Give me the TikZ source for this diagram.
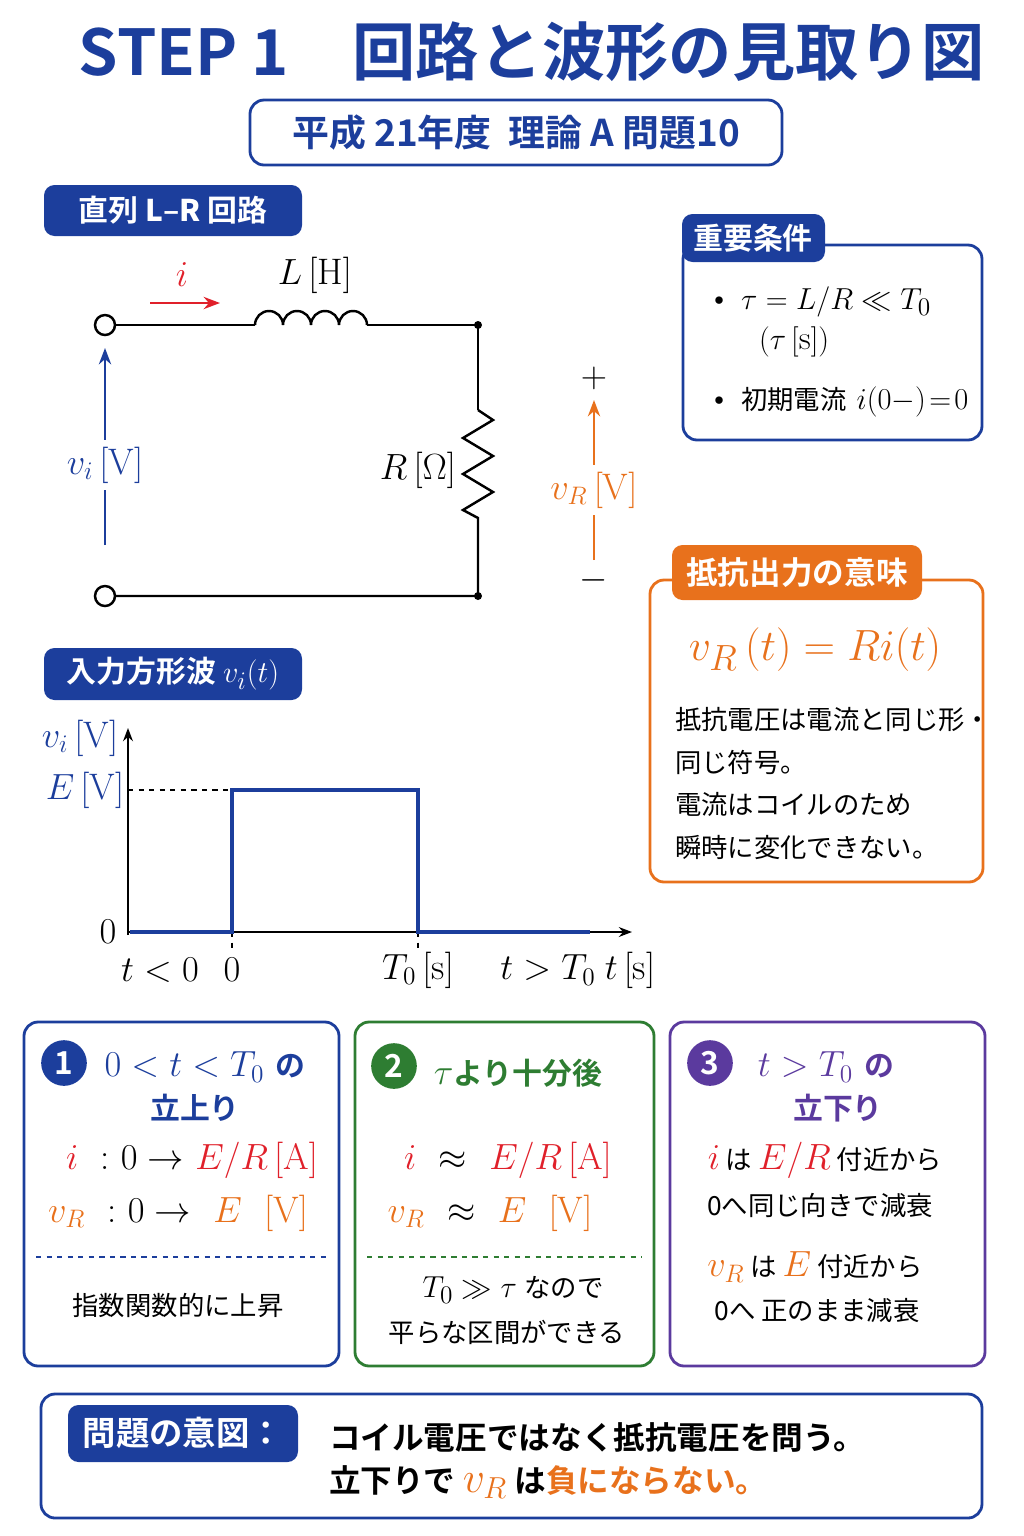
\documentclass[tikz,border=0pt]{standalone}
\usepackage{fontspec}
\usepackage{amssymb}
\newfontfamily\jp{Noto Sans CJK JP}[BoldFont={Noto Sans CJK JP Bold}]
\usetikzlibrary{arrows.meta}
\definecolor{navy}{HTML}{1C3E9C}
\definecolor{ora}{HTML}{E8711C}
\definecolor{redc}{HTML}{E0202A}
\definecolor{grn}{HTML}{2E7D32}
\definecolor{pur}{HTML}{5B3A9E}
\newcommand{\fs}[1]{\fontsize{#1}{#1}\selectfont}
\tikzset{
  frame/.style={draw=#1, line width=1.6pt, rounded corners=8pt},
  lbl/.style={font=\fs{21}},
  jtx/.style={font=\jp\fs{15}},
  num/.style={circle, fill=#1, text=white, minimum size=26pt, inner sep=0pt, font=\jp\bfseries\fs{18}},
}
\begin{document}
\begin{tikzpicture}[x=0.02cm, y=-0.02cm, >=Stealth, line width=1.4pt]
\useasboundingbox (0,0) rectangle (1024,1536);

% Title
\node[text=navy, font=\jp\bfseries\fs{36}] (title) at (532,52) {STEP 1\quad 回路と波形の見取り図};
\draw[frame=navy] (250,100) rectangle (782,165);
\node[text=navy, font=\jp\bfseries\fs{21}] (sub) at (516,133) {平成 21年度\ \ 理論 A 問題10};

% Circuit
\fill[navy, rounded corners=6pt] (44,185) rectangle (302,236);
\node[text=white, font=\jp\bfseries\fs{17}] (tagc) at (173,210) {直列 \textit{L}–\textit{R} 回路};
\draw (105,325) circle (10);
\draw (105,596) circle (10);
\coordinate (tl) at (115,325);
\coordinate (tr) at (478,325);
\coordinate (br) at (478,596);
\coordinate (bl) at (115,596);
\draw (tl) -- (255,325);
\draw (255,325) arc (180:360:14) (283,325) arc (180:360:14) (311,325) arc (180:360:14) (339,325) arc (180:360:14);
\draw (367,325) -- (tr) -- (478,410);
\draw (478,410) -- (493,420) -- (463,438) -- (493,456) -- (463,474) -- (493,492) -- (463,510) -- (478,518) -- (br) -- (bl);
\fill (tr) circle (4) (br) circle (4);
\draw[->, redc] (150,303) -- (220,303);
\node[lbl, text=redc] (ii) at (182,275) {$i$};
\node[lbl] (Lh) at (315,275) {$L\,[\mathrm{H}]$};
\node[lbl] (Rh) at (418,470) {$R\,[\Omega]$};
\node[lbl, text=navy, fill=white] (vi) at (105,465) {$v_i\,[\mathrm{V}]$};
\draw[navy] (105,545) -- (vi.south);
\draw[->, navy] (vi.north) -- (105,348);
\node[lbl, text=ora, fill=white] (vr) at (594,490) {$v_R\,[\mathrm{V}]$};
\draw[ora] (594,560) -- (vr.south);
\draw[->, ora] (vr.north) -- (594,400);
\node[lbl] (pl) at (594,378) {$+$};
\node[lbl] (mi) at (594,580) {$-$};

% Conditions
\draw[frame=navy] (683,245) rectangle (982,440);
\fill[navy, rounded corners=6pt] (682,214) rectangle (825,262);
\node[text=white, font=\jp\bfseries\fs{17}] (tagk) at (753,238) {重要条件};
\node[font=\fs{19}, anchor=west] (k1) at (700,302) {\textbullet\ $\tau = L/R \ll T_0$};
\node[font=\fs{19}, anchor=west] (k2) at (752,342) {$(\tau\,[\mathrm{s}])$};
\node[font=\fs{19}, anchor=west] (k3) at (700,402) {\textbullet\ {\jp\fs{15}初期電流} $i(0{-})\!=\!0$};

% Meaning
\draw[frame=ora] (650,580) rectangle (983,882);
\fill[ora, rounded corners=6pt] (672,545) rectangle (922,600);
\node[text=white, font=\jp\bfseries\fs{18}] (tago) at (797,573) {抵抗出力の意味};
\node[text=ora, font=\fs{32}] (form) at (815,650) {$v_R\,(t) = Ri(t)$};
\node[jtx, anchor=west] (m1) at (668,720) {抵抗電圧は電流と同じ形・};
\node[jtx, anchor=west] (m2) at (668,762) {同じ符号。};
\node[jtx, anchor=west] (m3) at (668,804) {電流はコイルのため};
\node[jtx, anchor=west] (m4) at (668,847) {瞬時に変化できない。};

% Waveform
\fill[navy, rounded corners=6pt] (44,648) rectangle (302,700);
\node[text=white, font=\jp\bfseries\fs{17}] (tagw) at (173,674) {入力方形波 \fs{19}$v_i(t)$};
\coordinate (o) at (128,932);
\draw[->, line width=1pt] (128,935) -- (128,728);
\draw[->, line width=1pt] (o) -- (632,932);
\node[lbl, text=navy] (ya) at (80,738) {$v_i\,[\mathrm{V}]$};
\node[lbl, text=navy] (ye) at (85,790) {$E\,[\mathrm{V}]$};
\node[lbl] (y0) at (108,932) {$0$};
\draw[dashed, line width=0.8pt] (128,790) -- (232,790);
\draw[dashed, line width=0.8pt] (232,932) -- (232,948) (418,932) -- (418,948);
\draw[navy, line width=2.4pt] (130,932) -- (232,932) -- (232,790) -- (418,790) -- (418,932) -- (590,932);
\node[lbl] (x1) at (160,970) {$t<0$};
\node[lbl] (x2) at (232,970) {$0$};
\node[lbl] (x3) at (418,970) {$T_0\,[\mathrm{s}]$};
\node[lbl] (x4) at (548,970) {$t>T_0$};
\node[lbl] (x5) at (630,970) {$t\,[\mathrm{s}]$};

% Box 1
\draw[frame=navy] (24,1022) rectangle (339,1366);
\node[num=navy] (n1) at (64,1063) {1};
\node[lbl, text=navy] (b1a) at (205,1067) {$0<t<T_0$ {\jp\bfseries\fs{17}の}};
\node[text=navy, font=\jp\bfseries\fs{17}] (b1b) at (195,1108) {立上り};
\node[lbl] (b1c) at (192,1160) {\textcolor{redc}{$i$} \ :\ $0 \rightarrow$ \textcolor{redc}{$E/R\,[\mathrm{A}]$}};
\node[lbl] (b1d) at (178,1213) {\textcolor{ora}{$v_R$} \ :\ $0 \rightarrow$ \ \textcolor{ora}{$E\ \ [\mathrm{V}]$}};
\draw[navy, dashed, line width=1pt] (36,1257) -- (328,1257);
\node[jtx] (b1e) at (178,1305) {指数関数的に上昇};

% Box 2
\draw[frame=grn] (355,1022) rectangle (654,1366);
\node[num=grn] (n2) at (394,1066) {2};
\node[text=grn, font=\jp\bfseries\fs{17}] (b2a) at (518,1073) {\fs{21}$\tau$\fs{17}より十分後};
\node[lbl] (b2c) at (508,1160) {\textcolor{redc}{$i$} \ $\approx$ \ \textcolor{redc}{$E/R\,[\mathrm{A}]$}};
\node[lbl] (b2d) at (490,1213) {\textcolor{ora}{$v_R$} \ $\approx$ \ \textcolor{ora}{$E\ \ [\mathrm{V}]$}};
\draw[grn, dashed, line width=1pt] (367,1257) -- (642,1257);
\node[jtx] (b2e) at (513,1290) {\fs{19}$T_0 \gg \tau$ \fs{15}なので};
\node[jtx] (b2f) at (507,1332) {平らな区間ができる};

% Box 3
\draw[frame=pur] (670,1022) rectangle (985,1366);
\node[num=pur] (n3) at (710,1063) {3};
\node[lbl, text=pur] (b3a) at (826,1067) {$t>T_0$ {\jp\bfseries\fs{17}の}};
\node[text=pur, font=\jp\bfseries\fs{17}] (b3b) at (838,1108) {立下り};
\node[jtx] (b3c) at (825,1160) {\textcolor{redc}{\fs{21}$i$} は \textcolor{redc}{\fs{21}$E/R$} 付近から};
\node[jtx] (b3d) at (820,1205) {0へ同じ向きで減衰};
\node[jtx] (b3e) at (815,1267) {\textcolor{ora}{\fs{21}$v_R$} は \textcolor{ora}{\fs{21}$E$} 付近から};
\node[jtx] (b3f) at (817,1310) {0へ 正のまま減衰};

% Intent
\draw[frame=navy] (41,1394) rectangle (982,1518);
\fill[navy, rounded corners=6pt] (68,1405) rectangle (298,1462);
\node[text=white, font=\jp\bfseries\fs{19}] (tagi) at (183,1433) {問題の意図：};
\node[anchor=west, font=\jp\bfseries\fs{18}] (i1) at (322,1437) {コイル電圧ではなく抵抗電圧を問う。};
\node[anchor=west, font=\jp\bfseries\fs{18}] (i2) at (322,1482) {立下りで \textcolor{ora}{\fs{23}$v_R$} は\textcolor{ora}{負にならない。}};
\end{tikzpicture}
\end{document}
